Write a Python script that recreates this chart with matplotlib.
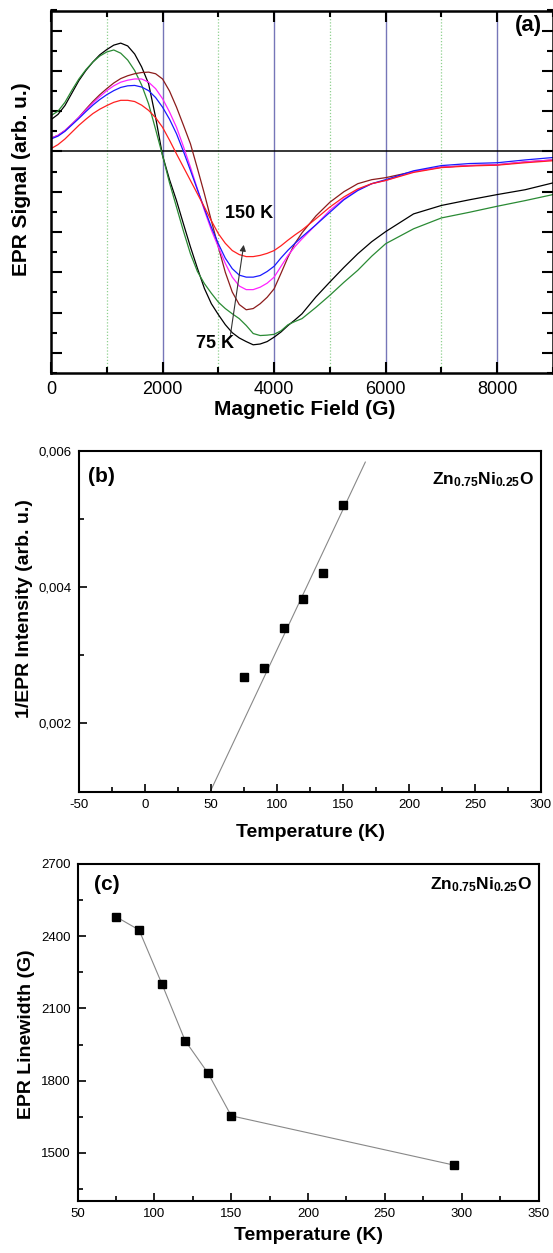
import matplotlib
matplotlib.use("Agg")
import matplotlib.pyplot as plt
from matplotlib.ticker import MultipleLocator, FuncFormatter

plt.rcParams['font.family'] = ['Liberation Sans', 'DejaVu Sans']
plt.rcParams['mathtext.fontset'] = 'custom'
plt.rcParams['mathtext.rm'] = 'Liberation Sans'
plt.rcParams['mathtext.bf'] = 'Liberation Sans:bold'
plt.rcParams['axes.unicode_minus'] = False

# (a) EPR spectra, signal in arbitrary units (one major tick = 1)
field = [0, 125, 250, 375, 500, 625, 750, 875, 1000, 1125, 1250, 1375, 1500, 1625, 1750,
         1875, 2000, 2125, 2250, 2375, 2500, 2625, 2750, 2875, 3000, 3125, 3250, 3375,
         3500, 3625, 3750, 3875, 4000, 4125, 4250, 4375, 4500, 4750, 5000, 5250, 5500,
         5750, 6000, 6500, 7000, 7500, 8000, 8500, 9000]
sig_black = [0.79, 0.92, 1.14, 1.45, 1.76, 2.01, 2.22, 2.40, 2.53, 2.64, 2.69, 2.62, 2.42,
             2.10, 1.68, 0.85, -0.10, -0.70, -1.22, -1.80, -2.37, -2.90, -3.40, -3.78, -4.05,
             -4.30, -4.50, -4.63, -4.72, -4.80, -4.78, -4.72, -4.61, -4.48, -4.32, -4.18,
             -4.03, -3.61, -3.24, -2.88, -2.54, -2.24, -1.99, -1.55, -1.34, -1.20, -1.07,
             -0.95, -0.78]
sig_green = [0.89, 1.00, 1.22, 1.52, 1.80, 2.03, 2.22, 2.37, 2.47, 2.52, 2.44, 2.27, 2.01,
             1.65, 1.18, 0.55, -0.10, -0.78, -1.38, -1.98, -2.54, -2.98, -3.28, -3.52, -3.74,
             -3.90, -4.03, -4.15, -4.32, -4.52, -4.57, -4.56, -4.54, -4.45, -4.30, -4.22,
             -4.15, -3.87, -3.57, -3.25, -2.95, -2.60, -2.29, -1.92, -1.65, -1.51, -1.36,
             -1.22, -1.07]
sig_brown = [0.33, 0.40, 0.52, 0.68, 0.85, 1.05, 1.24, 1.41, 1.56, 1.70, 1.81, 1.88, 1.93,
             1.96, 1.97, 1.93, 1.80, 1.50, 1.10, 0.65, 0.19, -0.42, -1.05, -1.72, -2.37,
             -3.00, -3.49, -3.80, -3.93, -3.90, -3.78, -3.62, -3.41, -3.02, -2.62, -2.28,
             -2.02, -1.60, -1.26, -1.00, -0.80, -0.70, -0.65, -0.50, -0.39, -0.35, -0.33,
             -0.26, -0.21]
sig_magenta = [0.33, 0.40, 0.52, 0.68, 0.85, 1.03, 1.20, 1.36, 1.51, 1.63, 1.72, 1.77, 1.80,
               1.80, 1.72, 1.56, 1.31, 0.98, 0.60, 0.12, -0.39, -0.93, -1.46, -1.95, -2.37,
               -2.78, -3.12, -3.34, -3.43, -3.43, -3.37, -3.27, -3.12, -2.85, -2.58, -2.36,
               -2.17, -1.82, -1.46, -1.18, -0.95, -0.80, -0.72, -0.50, -0.39, -0.35, -0.33,
               -0.26, -0.21]
sig_blue = [0.31, 0.38, 0.50, 0.66, 0.82, 0.99, 1.15, 1.29, 1.41, 1.51, 1.59, 1.63, 1.64,
            1.60, 1.51, 1.34, 1.10, 0.80, 0.44, 0.00, -0.47, -0.95, -1.42, -1.88, -2.29,
            -2.65, -2.91, -3.07, -3.12, -3.12, -3.08, -2.98, -2.85, -2.64, -2.45, -2.28,
            -2.12, -1.82, -1.51, -1.20, -0.97, -0.80, -0.70, -0.48, -0.35, -0.30, -0.28,
            -0.21, -0.15]
sig_red = [0.07, 0.17, 0.31, 0.48, 0.65, 0.80, 0.94, 1.05, 1.14, 1.22, 1.27, 1.27, 1.24,
           1.15, 1.02, 0.84, 0.60, 0.28, -0.06, -0.39, -0.72, -1.05, -1.38, -1.72, -2.04,
           -2.28, -2.46, -2.56, -2.61, -2.61, -2.58, -2.53, -2.46, -2.34, -2.20, -2.07,
           -1.95, -1.67, -1.38, -1.13, -0.93, -0.80, -0.72, -0.52, -0.40, -0.36, -0.34,
           -0.28, -0.23]

# (b) inverse intensity
temp_b = [75, 90, 105, 120, 135, 150]
inv_int = [0.00268, 0.00282, 0.00340, 0.00383, 0.00421, 0.00520]
fit_T = [49.4, 166.9]
fit_inv = [0.0010, 0.00583]

# (c) linewidth
temp_c = [75, 90, 105, 120, 135, 150, 295]
linewidth = [2481, 2426, 2200, 1966, 1830, 1654, 1449]

W, H = 553, 1253
fig = plt.figure(figsize=(W / 100, H / 100), dpi=100)


def px_axes(l, t, r, b):
    return fig.add_axes([l / W, 1 - b / H, (r - l) / W, (b - t) / H])


# ---------------- panel (a)
ax = px_axes(51, 10.5, 553, 373)
for g in [1000, 3000, 5000, 7000]:
    ax.axvline(g, color='#8fd08f', lw=0.9, ls=(0, (1, 1.5)), zorder=0)
for g in [2000, 4000, 6000, 8000]:
    ax.axvline(g, color='#7676b8', lw=1.0, zorder=0)
ax.axhline(0, color='black', lw=1.1, zorder=1)

for ys, c in [(sig_black, 'black'), (sig_green, '#2a8a34'), (sig_brown, '#8b1c1c'),
              (sig_magenta, '#ff22ff'), (sig_blue, '#1a1aff'), (sig_red, '#ff2020')]:
    ax.plot(field, ys, color=c, lw=0.9, zorder=2)

ax.annotate('', xy=(3462, -2.25), xytext=(3211, -4.61),
            arrowprops=dict(arrowstyle='-|>', color='#333333', lw=0.8, mutation_scale=9))
ax.text(3552, -1.54, '150 K', fontsize=13, fontweight='bold', ha='center', va='center')
ax.text(2933, -4.77, '75 K', fontsize=13, fontweight='bold', ha='center', va='center')
ax.text(8807, 3.13, '(a)', fontsize=16, fontweight='bold', ha='right', va='center')

ax.set_xlim(0, 9000)
ax.set_ylim(-5.5, 3.5)
ax.xaxis.set_major_locator(MultipleLocator(2000))
ax.xaxis.set_minor_locator(MultipleLocator(1000))
ax.yaxis.set_major_locator(MultipleLocator(1))
ax.yaxis.set_minor_locator(MultipleLocator(0.5))
ax.tick_params(which='both', direction='in', top=True, right=True, labelleft=False,
               labelsize=13, width=1.5, pad=6)
ax.tick_params(which='major', length=8)
ax.tick_params(which='minor', length=4)
for s in ax.spines.values():
    s.set_linewidth(1.8)
ax.set_xlabel('Magnetic Field (G)', fontsize=15, fontweight='bold')
ax.set_ylabel('EPR Signal (arb. u.)', fontsize=15, fontweight='bold')
ax.xaxis.label.set_va('center')
ax.yaxis.label.set_va('center')
ax.xaxis.set_label_coords(0.506, -0.102)
ax.yaxis.set_label_coords(-0.058, 0.535)

zn_label = r'$\mathbf{Zn_{0.75}Ni_{0.25}O}$'

# ---------------- panel (b)
ax = px_axes(79, 450.5, 541, 791.7)
ax.plot(fit_T, fit_inv, color='#888888', lw=0.8, zorder=1)
ax.plot(temp_b, inv_int, ls='none', marker='s', ms=5.5, color='black', zorder=2)
ax.set_xlim(-50, 300)
ax.set_ylim(0.001, 0.006)
ax.xaxis.set_major_locator(MultipleLocator(50))
ax.xaxis.set_minor_locator(MultipleLocator(25))
ax.yaxis.set_major_locator(MultipleLocator(0.002))
ax.yaxis.set_minor_locator(MultipleLocator(0.001))
ax.yaxis.set_major_formatter(FuncFormatter(lambda v, p: ('%.3f' % v).replace('.', ',')
                                           if v > 0.0015 else ''))
ax.tick_params(which='both', direction='in', labelsize=9.5, width=1.2, pad=5)
ax.tick_params(which='major', length=6)
ax.tick_params(which='minor', length=3.5)
for s in ax.spines.values():
    s.set_linewidth(1.5)
ax.text(0.02, 0.925, '(b)', transform=ax.transAxes, fontsize=15, fontweight='bold',
        ha='left', va='center')
ax.text(0.985, 0.915, zn_label, transform=ax.transAxes, fontsize=12.5, ha='right', va='center')
ax.set_xlabel('Temperature (K)', fontsize=14, fontweight='bold')
ax.set_ylabel('1/EPR Intensity (arb. u.)', fontsize=14, fontweight='bold')
ax.xaxis.label.set_va('center')
ax.yaxis.label.set_va('center')
ax.xaxis.set_label_coords(0.502, -0.120)
ax.yaxis.set_label_coords(-0.1175, 0.536)

# ---------------- panel (c)
ax = px_axes(77.6, 864, 538.5, 1201)
ax.plot(temp_c, linewidth, color='#888888', lw=0.8, zorder=1)
ax.plot(temp_c, linewidth, ls='none', marker='s', ms=5.5, color='black', zorder=2)
ax.set_xlim(50, 350)
ax.set_ylim(1300, 2700)
ax.xaxis.set_major_locator(MultipleLocator(50))
ax.xaxis.set_minor_locator(MultipleLocator(25))
ax.yaxis.set_major_locator(MultipleLocator(300))
ax.yaxis.set_minor_locator(MultipleLocator(150))
ax.tick_params(which='both', direction='in', labelsize=9.5, width=1.2, pad=5)
ax.tick_params(which='major', length=6)
ax.tick_params(which='minor', length=3.5)
for s in ax.spines.values():
    s.set_linewidth(1.5)
ax.text(0.035, 0.94, '(c)', transform=ax.transAxes, fontsize=15, fontweight='bold',
        ha='left', va='center')
ax.text(0.985, 0.94, zn_label, transform=ax.transAxes, fontsize=12.5, ha='right', va='center')
ax.set_xlabel('Temperature (K)', fontsize=14, fontweight='bold')
ax.set_ylabel('EPR Linewidth (G)', fontsize=14, fontweight='bold')
ax.xaxis.label.set_va('center')
ax.yaxis.label.set_va('center')
ax.xaxis.set_label_coords(0.502, -0.101)
ax.yaxis.set_label_coords(-0.111, 0.496)

fig.savefig('out.png', dpi=100)
